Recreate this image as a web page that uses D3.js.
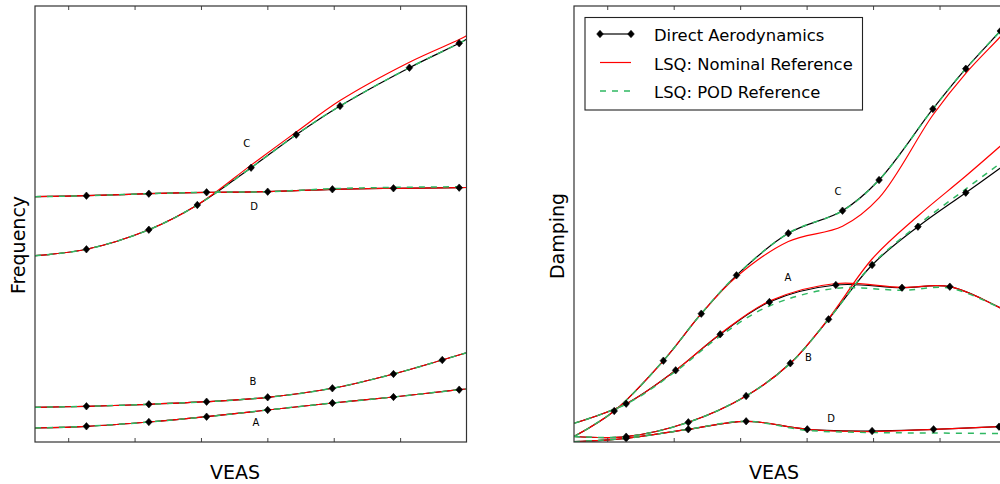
<!DOCTYPE html>
<html lang="en">
<head>
<meta charset="utf-8">
<title>Frequency and damping versus VEAS</title>
<script src="https://cdn.jsdelivr.net/npm/d3@7"></script>
<style>
  body { margin: 0; background: #fff; }
  svg { display: block; font-family: "DejaVu Sans", sans-serif; }
  .frame { fill: none; stroke: #333; stroke-width: 1.2px; }
  .tick line { stroke: #444; }
  .direct { fill: none; stroke: #000; stroke-width: 1.2px; }
  .nominal { fill: none; stroke: #ff0000; stroke-width: 1.2px; }
  .pod { fill: none; stroke: #2fb862; stroke-width: 1.5px; stroke-dasharray: 6,6; }
  .mode-label { font-size: 10px; }
  .axis-label { font-size: 19px; }
  .legend text { font-size: 16.4px; }
</style>
</head>
<body>
<svg width="1000" height="484"></svg>
<script>
  // ---- frequency (left) ----
  var fA_veas    = [0, 15.5, 34.3, 51.7, 70.1, 89.6, 108.0, 127.8, 130];
  var fA_direct  = [3.21, 3.60, 4.59, 5.80, 7.34, 8.94, 10.32, 12.00, 12.16];
  var fA_nominal = [3.21, 3.60, 4.59, 5.80, 7.34, 8.94, 10.32, 12.00, 12.16];
  var fA_pod     = [3.21, 3.60, 4.59, 5.80, 7.34, 8.94, 10.32, 12.00, 12.16];

  var fB_veas    = [0, 15.5, 34.3, 51.7, 70.1, 89.6, 108.0, 122.7, 130];
  var fB_direct  = [7.96, 8.19, 8.65, 9.24, 10.25, 12.32, 15.60, 18.81, 20.48];
  var fB_nominal = [7.96, 8.19, 8.65, 9.24, 10.25, 12.32, 15.60, 18.81, 20.48];
  var fB_pod     = [7.96, 8.19, 8.65, 9.24, 10.25, 12.32, 15.60, 18.81, 20.48];

  var fC_veas    = [0, 15.5, 34.3, 48.9, 65.1, 78.7, 91.9, 112.8, 127.8, 130];
  var fC_direct  = [42.73, 44.20, 48.69, 54.36, 62.91, 70.48, 77.06, 85.85, 91.44, 92.36];
  var fC_nominal = [42.73, 44.20, 48.69, 54.36, 63.50, 71.10, 78.30, 87.10, 92.30, 93.20];
  var fC_pod     = [42.73, 44.20, 48.69, 54.36, 62.91, 70.48, 77.06, 85.85, 91.44, 92.36];

  var fD_veas    = [0, 15.5, 34.3, 51.7, 70.1, 89.6, 108.0, 127.8, 130];
  var fD_direct  = [56.26, 56.49, 56.95, 57.27, 57.41, 57.96, 58.19, 58.33, 58.37];
  var fD_nominal = [56.26, 56.49, 56.95, 57.27, 57.41, 57.96, 58.19, 58.33, 58.37];
  var fD_pod     = [56.26, 56.49, 56.95, 57.27, 57.41, 58.10, 58.40, 58.55, 58.60];

  // ---- damping (right) ----
  var dA_veas    = [0, 15.7, 30.6, 44.0, 58.8, 78.8, 98.7, 113.1, 130];
  var dA_direct  = [4.29, 8.78, 16.44, 24.70, 32.11, 36.01, 35.39, 35.62, 30.05];
  var dA_nominal = [4.29, 8.78, 16.44, 24.80, 32.30, 36.35, 35.47, 35.62, 30.05];
  var dA_pod     = [4.29, 8.70, 16.20, 24.30, 31.20, 35.25, 34.80, 35.30, 30.05];

  var dB_veas    = [0, 15.7, 34.4, 51.8, 65.1, 76.6, 89.7, 103.5, 117.9, 130];
  var dB_direct  = [1.26, 1.22, 4.52, 10.55, 18.05, 28.14, 40.60, 49.38, 57.18, 63.76];
  var dB_nominal = [1.26, 1.22, 4.52, 10.55, 18.05, 28.30, 41.97, 51.83, 61.00, 69.00];
  var dB_pod     = [1.26, 1.22, 4.52, 10.55, 18.05, 28.14, 40.70, 49.77, 58.03, 64.90];

  var dC_veas    = [0, 12.1, 26.9, 38.3, 48.9, 64.5, 80.8, 91.8, 108.0, 117.9, 128.3, 130];
  var dC_direct  = [1.26, 7.11, 18.65, 29.43, 38.23, 47.87, 53.05, 60.09, 76.38, 85.62, 94.27, 95.76];
  var dC_nominal = [1.26, 7.11, 18.65, 29.43, 37.90, 46.00, 49.50, 56.00, 75.00, 84.56, 92.96, 94.50];
  var dC_pod     = [1.26, 7.11, 18.65, 29.43, 38.23, 47.87, 53.05, 60.09, 76.38, 85.62, 94.27, 95.76];

  var dD_veas    = [0, 15.7, 34.4, 51.8, 70.2, 89.7, 108.2, 127.9, 130];
  var dD_direct  = [0.07, 0.85, 2.91, 4.75, 2.91, 2.52, 2.91, 3.51, 3.60];
  var dD_nominal = [0.07, 0.85, 2.91, 4.75, 2.91, 2.40, 2.91, 3.51, 3.60];
  var dD_pod     = [0.07, 0.85, 2.91, 4.75, 2.68, 2.18, 2.06, 1.95, 1.95];

  var tickValues = [10, 30, 50, 70, 90, 110];
  var legendLabels = ["Direct Aerodynamics", "LSQ: Nominal Reference", "LSQ: POD Reference"];

  var svg = d3.select("svg");

  // small rotated-square marker, like matplotlib's 'D'
  var diamondType = {
    draw: function(ctx, size) {
      var w = Math.sqrt(size) * 0.5, h = w * 1.12;
      ctx.moveTo(0, -h); ctx.lineTo(w, 0); ctx.lineTo(0, h); ctx.lineTo(-w, 0); ctx.closePath();
    }
  };
  var marker = d3.symbol().type(diamondType).size(44);

  function zip(xs, ys) {
    return xs.map(function(x, i) { return [x, ys[i]]; });
  }

  function panel(opts) {
    var x = d3.scaleLinear().domain([0, 130]).range([opts.left, opts.right]);
    var y = d3.scaleLinear().domain([0, 100]).range([442, 6]);
    var g = svg.append("g");

    g.append("clipPath").attr("id", opts.id + "-clip")
      .append("rect")
        .attr("x", x(0)).attr("y", y(100))
        .attr("width", x(130) - x(0)).attr("height", y(0) - y(100));

    var line = d3.line()
      .x(function(d) { return x(d[0]); })
      .y(function(d) { return y(d[1]); })
      .curve(d3.curveCatmullRom.alpha(0.5));

    var plot = g.append("g").attr("clip-path", "url(#" + opts.id + "-clip)");

    ["direct", "nominal", "pod"].forEach(function(kind) {
      opts.modes.forEach(function(m) {
        plot.append("path")
          .attr("class", kind)
          .attr("d", line(zip(m.veas, m[kind])));
      });
    });

    // markers on the direct aerodynamics points (interior samples)
    opts.modes.forEach(function(m) {
      var pts = zip(m.veas, m.direct).slice(1, -1);
      plot.selectAll(null)
        .data(pts)
        .enter()
        .append("path")
          .attr("d", marker)
          .attr("fill", "#000")
          .attr("stroke", "#000")
          .attr("stroke-width", 0.6)
          .attr("transform", function(d) { return "translate(" + x(d[0]) + "," + y(d[1]) + ")"; });
    });

    g.append("g")
      .attr("transform", "translate(0," + y(0) + ")")
      .call(d3.axisBottom(x).tickValues(tickValues).tickSize(-4).tickFormat(""))
      .select(".domain").remove();
    g.append("g")
      .attr("transform", "translate(0," + y(100) + ")")
      .call(d3.axisTop(x).tickValues(tickValues).tickSize(-4).tickFormat(""))
      .select(".domain").remove();

    g.append("rect")
      .attr("class", "frame")
      .attr("x", x(0)).attr("y", y(100))
      .attr("width", x(130) - x(0)).attr("height", y(0) - y(100));

    opts.labels.forEach(function(l) {
      g.append("text")
        .attr("class", "mode-label")
        .attr("text-anchor", "middle")
        .attr("x", l[1]).attr("y", l[2])
        .text(l[0]);
    });

    g.append("text")
      .attr("class", "axis-label")
      .attr("text-anchor", "middle")
      .attr("x", opts.xLabelX).attr("y", 479)
      .text("VEAS");

    g.append("text")
      .attr("class", "axis-label")
      .attr("text-anchor", "middle")
      .attr("transform", "translate(" + opts.yLabelX + "," + opts.yLabelY + ") rotate(-90)")
      .text(opts.yLabel);

    return g;
  }

  function mode(veas, direct, nominal, pod) {
    return { veas: veas, direct: direct, nominal: nominal, pod: pod };
  }

  panel({
    id: "freq", left: 35, right: 466.5,
    modes: [
      mode(fA_veas, fA_direct, fA_nominal, fA_pod),
      mode(fB_veas, fB_direct, fB_nominal, fB_pod),
      mode(fC_veas, fC_direct, fC_nominal, fC_pod),
      mode(fD_veas, fD_direct, fD_nominal, fD_pod)
    ],
    labels: [["C", 246.7, 146.7], ["D", 254, 210], ["B", 253, 385], ["A", 256, 425.7]],
    xLabelX: 235, yLabel: "Frequency", yLabelX: 25, yLabelY: 245
  });

  panel({
    id: "damp", left: 574, right: 1006,
    modes: [
      mode(dA_veas, dA_direct, dA_nominal, dA_pod),
      mode(dB_veas, dB_direct, dB_nominal, dB_pod),
      mode(dC_veas, dC_direct, dC_nominal, dC_pod),
      mode(dD_veas, dD_direct, dD_nominal, dD_pod)
    ],
    labels: [["C", 838, 195], ["A", 788, 280.7], ["B", 808.5, 361], ["D", 831, 422]],
    xLabelX: 774, yLabel: "Damping", yLabelX: 564, yLabelY: 236
  });

  // legend
  var legend = svg.append("g").attr("class", "legend");
  legend.append("rect")
    .attr("x", 585).attr("y", 17.5)
    .attr("width", 277.5).attr("height", 92.5)
    .attr("fill", "#fff").attr("stroke", "#222").attr("stroke-width", 1.1);

  var rowY = d3.scalePoint().domain(legendLabels).range([34, 91]);
  var styles = ["direct", "nominal", "pod"];

  legendLabels.forEach(function(label, i) {
    var yy = rowY(label);
    legend.append("line")
      .attr("class", styles[i])
      .attr("x1", 600).attr("x2", 631)
      .attr("y1", yy).attr("y2", yy);
    if (i === 0) {
      [600, 631].forEach(function(xx) {
        legend.append("path")
          .attr("d", marker)
          .attr("fill", "#000")
          .attr("stroke", "#000")
          .attr("stroke-width", 0.6)
          .attr("transform", "translate(" + xx + "," + yy + ")");
      });
    }
    legend.append("text")
      .attr("x", 654).attr("y", yy + 7)
      .text(label);
  });
</script>
</body>
</html>
